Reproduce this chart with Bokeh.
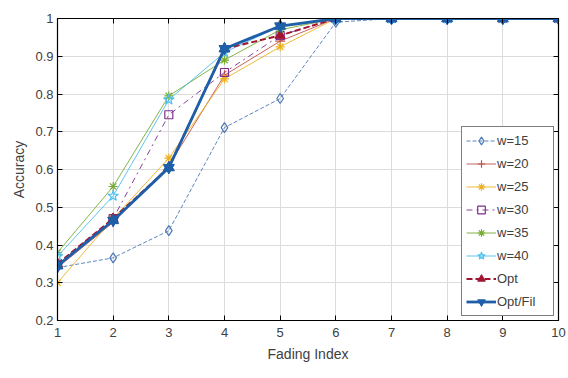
from bokeh.plotting import figure
from bokeh.models import Legend, LegendItem, LinearAxis, FixedTicker, Range1d
from bokeh.embed import file_html
from bokeh.resources import INLINE

x = [1, 2, 3, 4, 5, 6, 7, 8, 9, 10]
w15 = [0.34, 0.366, 0.438, 0.711, 0.788, 0.99, 1, 1, 1, 1]
w20 = [0.34, 0.46, 0.61, 0.85, 0.94, 1, 1, 1, 1, 1]
w25 = [0.30, 0.47, 0.63, 0.84, 0.925, 1, 1, 1, 1, 1]
w30 = [0.35, 0.47, 0.745, 0.857, 0.955, 1, 1, 1, 1, 1]
w35 = [0.38, 0.555, 0.795, 0.89, 0.97, 1, 1, 1, 1, 1]
w40 = [0.37, 0.53, 0.785, 0.91, 0.98, 1, 1, 1, 1, 1]
opt = [0.35, 0.47, 0.605, 0.92, 0.955, 1, 1, 1, 1, 1]
optfil = [0.345, 0.465, 0.605, 0.92, 0.98, 1, 1, 1, 1, 1]
labels = ["w=15", "w=20", "w=25", "w=30", "w=35", "w=40", "Opt", "Opt/Fil"]
xticks = list(range(1, 11))
yticks = [0.2, 0.3, 0.4, 0.5, 0.6, 0.7, 0.8, 0.9, 1.0]

FONT = "Liberation Sans"

p = figure(width=568, height=378, output_backend="svg", toolbar_location=None,
           x_range=Range1d(1, 10), y_range=Range1d(0.2, 1.0),
           min_border_left=57, min_border_right=10, min_border_top=18, min_border_bottom=58)
p.outline_line_color = "black"
p.outline_line_width = 1.2

for ax in (p.xaxis[0], p.yaxis[0]):
    ax.major_tick_in = 5
    ax.major_tick_out = 0
    ax.minor_tick_line_color = None
    ax.major_label_text_font = FONT
    ax.major_label_text_font_size = "13px"
    ax.major_label_text_color = "#404040"
    ax.axis_line_color = "black"
    ax.axis_label_text_font = FONT
    ax.axis_label_text_font_style = "normal"
    ax.axis_label_text_font_size = "14px"
    ax.axis_label_text_color = "#404040"
p.xaxis[0].ticker = FixedTicker(ticks=xticks)
p.yaxis[0].ticker = FixedTicker(ticks=yticks)
p.xaxis[0].axis_label = "Fading Index"
p.yaxis[0].axis_label = "Accuracy"
p.xaxis[0].major_label_standoff = 7
p.xaxis[0].axis_label_standoff = 6
p.yaxis[0].major_label_standoff = 4
p.yaxis[0].major_label_overrides = {1.0: "1"}

for loc, tk in (("above", xticks), ("right", yticks)):
    a = LinearAxis(ticker=FixedTicker(ticks=tk), major_tick_in=5, major_tick_out=0,
                   minor_tick_line_color=None, axis_line_color="black",
                   major_label_overrides={t: "" for t in tk})
    p.add_layout(a, loc)

p.xgrid.ticker = FixedTicker(ticks=xticks)
p.ygrid.ticker = FixedTicker(ticks=yticks)
p.grid.grid_line_color = "#dcdcdc"
p.grid.grid_line_width = 1

specs = [
    (w15, "#4a78b8", "diamond", 10, "4 2", 0.9, None),
    (w20, "#c0504d", "cross", 10, "solid", 0.9, None),
    (w25, "#edb120", "asterisk", 9, "solid", 0.9, None),
    (w30, "#7e2f8e", "square", 8, "dashdot", 0.9, None),
    (w35, "#77ac30", "asterisk", 9, "solid", 0.9, None),
    (w40, "#4dbeee", "star", 11, "solid", 0.9, None),
    (opt, "#a2142f", "triangle", 10, "6 3", 2.0, "#a2142f"),
    (optfil, "#1f5fa8", "inverted_triangle", 11, "solid", 2.8, "#1f5fa8"),
]
items = []
for (ys, col, mk, sz, dash, lw, fill), lab in zip(specs, labels):
    r1 = p.line(x, ys, line_color=col, line_width=lw, line_dash=dash)
    if fill is None:
        r2 = p.scatter(x, ys, marker=mk, size=sz, line_color=col, fill_color=None, line_width=1.2)
    else:
        r2 = p.scatter(x, ys, marker=mk, size=sz, line_color=col, fill_color=fill)
    items.append(LegendItem(label=lab, renderers=[r1, r2]))

# upward triangles on Opt/Fil give the star-like markers of the reference
p.scatter(x, optfil, marker="triangle", size=11, line_color="#1f5fa8", fill_color="#1f5fa8")

legend = Legend(items=items, location="bottom_right", label_text_font=FONT,
                label_text_font_size="13px", label_text_color="#404040",
                border_line_color="black", border_line_width=1, background_fill_alpha=1,
                glyph_width=30, glyph_height=19, label_height=19, label_width=52, spacing=4,
                padding=4, margin=4, label_standoff=1)
p.add_layout(legend)

open("out.html", "w").write(file_html(p, INLINE))
